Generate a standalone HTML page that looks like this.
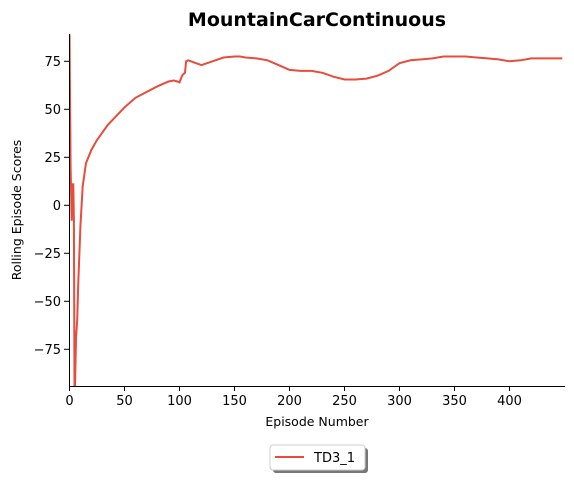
<!DOCTYPE html>
<html><head><meta charset="utf-8"><style>
body{margin:0;background:#fff;font-family:"DejaVu Sans","Liberation Sans",sans-serif;}
svg text{font-family:"DejaVu Sans","Liberation Sans",sans-serif;}
</style></head><body>
<svg id="chart" width="574" height="480">
<text x="317" y="26" text-anchor="middle" font-size="19" font-weight="bold">MountainCarContinuous</text>
<g id="yticks"></g>
<g id="xticks"></g>
<text transform="translate(21,210) rotate(-90)" text-anchor="middle" font-size="12.5">Rolling Episode Scores</text>
<text x="317" y="426" text-anchor="middle" font-size="12.5">Episode Number</text>
<g id="plot"></g>
<line x1="69.5" y1="34" x2="69.5" y2="386" stroke="#000" stroke-width="1"/>
<line x1="69" y1="386.5" x2="565" y2="386.5" stroke="#000" stroke-width="1"/>
<g>
<rect x="273" y="448" width="95" height="25" rx="3" fill="#777"/>
<rect x="270" y="445" width="95" height="25" rx="3" fill="#fff" stroke="#ccc"/>
<line x1="275" y1="457" x2="304" y2="457" stroke="#e74c3c" stroke-width="2"/>
<text x="314" y="462" font-size="13">TD3_1</text>
</g>
</svg>
<script>
const episodes=[0,1,2,3,3.5,4,4.5,5,6,7,8,10,12,15,20,25,30,35,40,50,60,70,80,90,95,98,100,102,103,105,106,108,115,120,125,130,140,150,155,160,170,180,190,200,210,220,230,240,250,260,270,280,290,300,310,320,330,340,350,360,370,380,390,400,410,420,430,440,448];
const scores=[89,20,-8,11,11,-8,-94,-94,-68,-60,-40,-10,10,22,29,34,38,42,45,51,56,59,62,64.5,65,64.5,64,67,68,69,75,75.5,74,73,74,75,77,77.5,77.5,77,76.5,75.5,73,70.5,70,70,69,67,65.5,65.5,66,67.5,70,74,75.5,76,76.5,77.5,77.5,77.5,77,76.5,76,75,75.5,76.5,76.5,76.5,76.5];
const xTicks=[0,50,100,150,200,250,300,350,400];
const yTicks=[-75,-50,-25,0,25,50,75];
const X0=69.5,XS=1.1, Y0=205.3, YS=1.92;
const xs=v=>X0+v*XS, ys=v=>Y0-v*YS;
const NS="http://www.w3.org/2000/svg";
const yg=document.getElementById('yticks'), xg=document.getElementById('xticks'), pg=document.getElementById('plot');
yTicks.forEach(t=>{
 const l=document.createElementNS(NS,'line');
 
 
 l.setAttribute('x1',64);l.setAttribute('x2',69);l.setAttribute('y1',ys(t));l.setAttribute('y2',ys(t));l.setAttribute('stroke','#000');
 yg.appendChild(l);
 const tx=document.createElementNS(NS,'text');
 
 
 tx.setAttribute('x',61);tx.setAttribute('y',ys(t)+4.5);tx.setAttribute('text-anchor','end');tx.setAttribute('font-size','13');
 tx.textContent=t<0?'\u2212'+(-t):String(t);
 yg.appendChild(tx);
});
xTicks.forEach(t=>{
 const l=document.createElementNS(NS,'line');
 
 
 l.setAttribute('x1',xs(t));l.setAttribute('x2',xs(t));l.setAttribute('y1',386);l.setAttribute('y2',391);l.setAttribute('stroke','#000');
 xg.appendChild(l);
 const tx=document.createElementNS(NS,'text');
 
 
 tx.setAttribute('x',xs(t));tx.setAttribute('y',405);tx.setAttribute('text-anchor','middle');tx.setAttribute('font-size','13');
 tx.textContent=String(t);
 xg.appendChild(tx);
});
const cp=document.createElementNS(NS,'clipPath');cp.setAttribute('id','clip');
const cr=document.createElementNS(NS,'rect');cr.setAttribute('x',69);cr.setAttribute('y',34);cr.setAttribute('width',496);cr.setAttribute('height',352);
cp.appendChild(cr);pg.appendChild(cp);
const p=document.createElementNS(NS,'path');


p.setAttribute('d',episodes.map((e,i)=>(i?'L':'M')+xs(e).toFixed(1)+','+ys(scores[i]).toFixed(1)).join(''));
p.setAttribute('fill','none');p.setAttribute('stroke','#e74c3c');p.setAttribute('stroke-width','2');p.setAttribute('clip-path','url(#clip)');
pg.appendChild(p);
</script>
</body></html>
